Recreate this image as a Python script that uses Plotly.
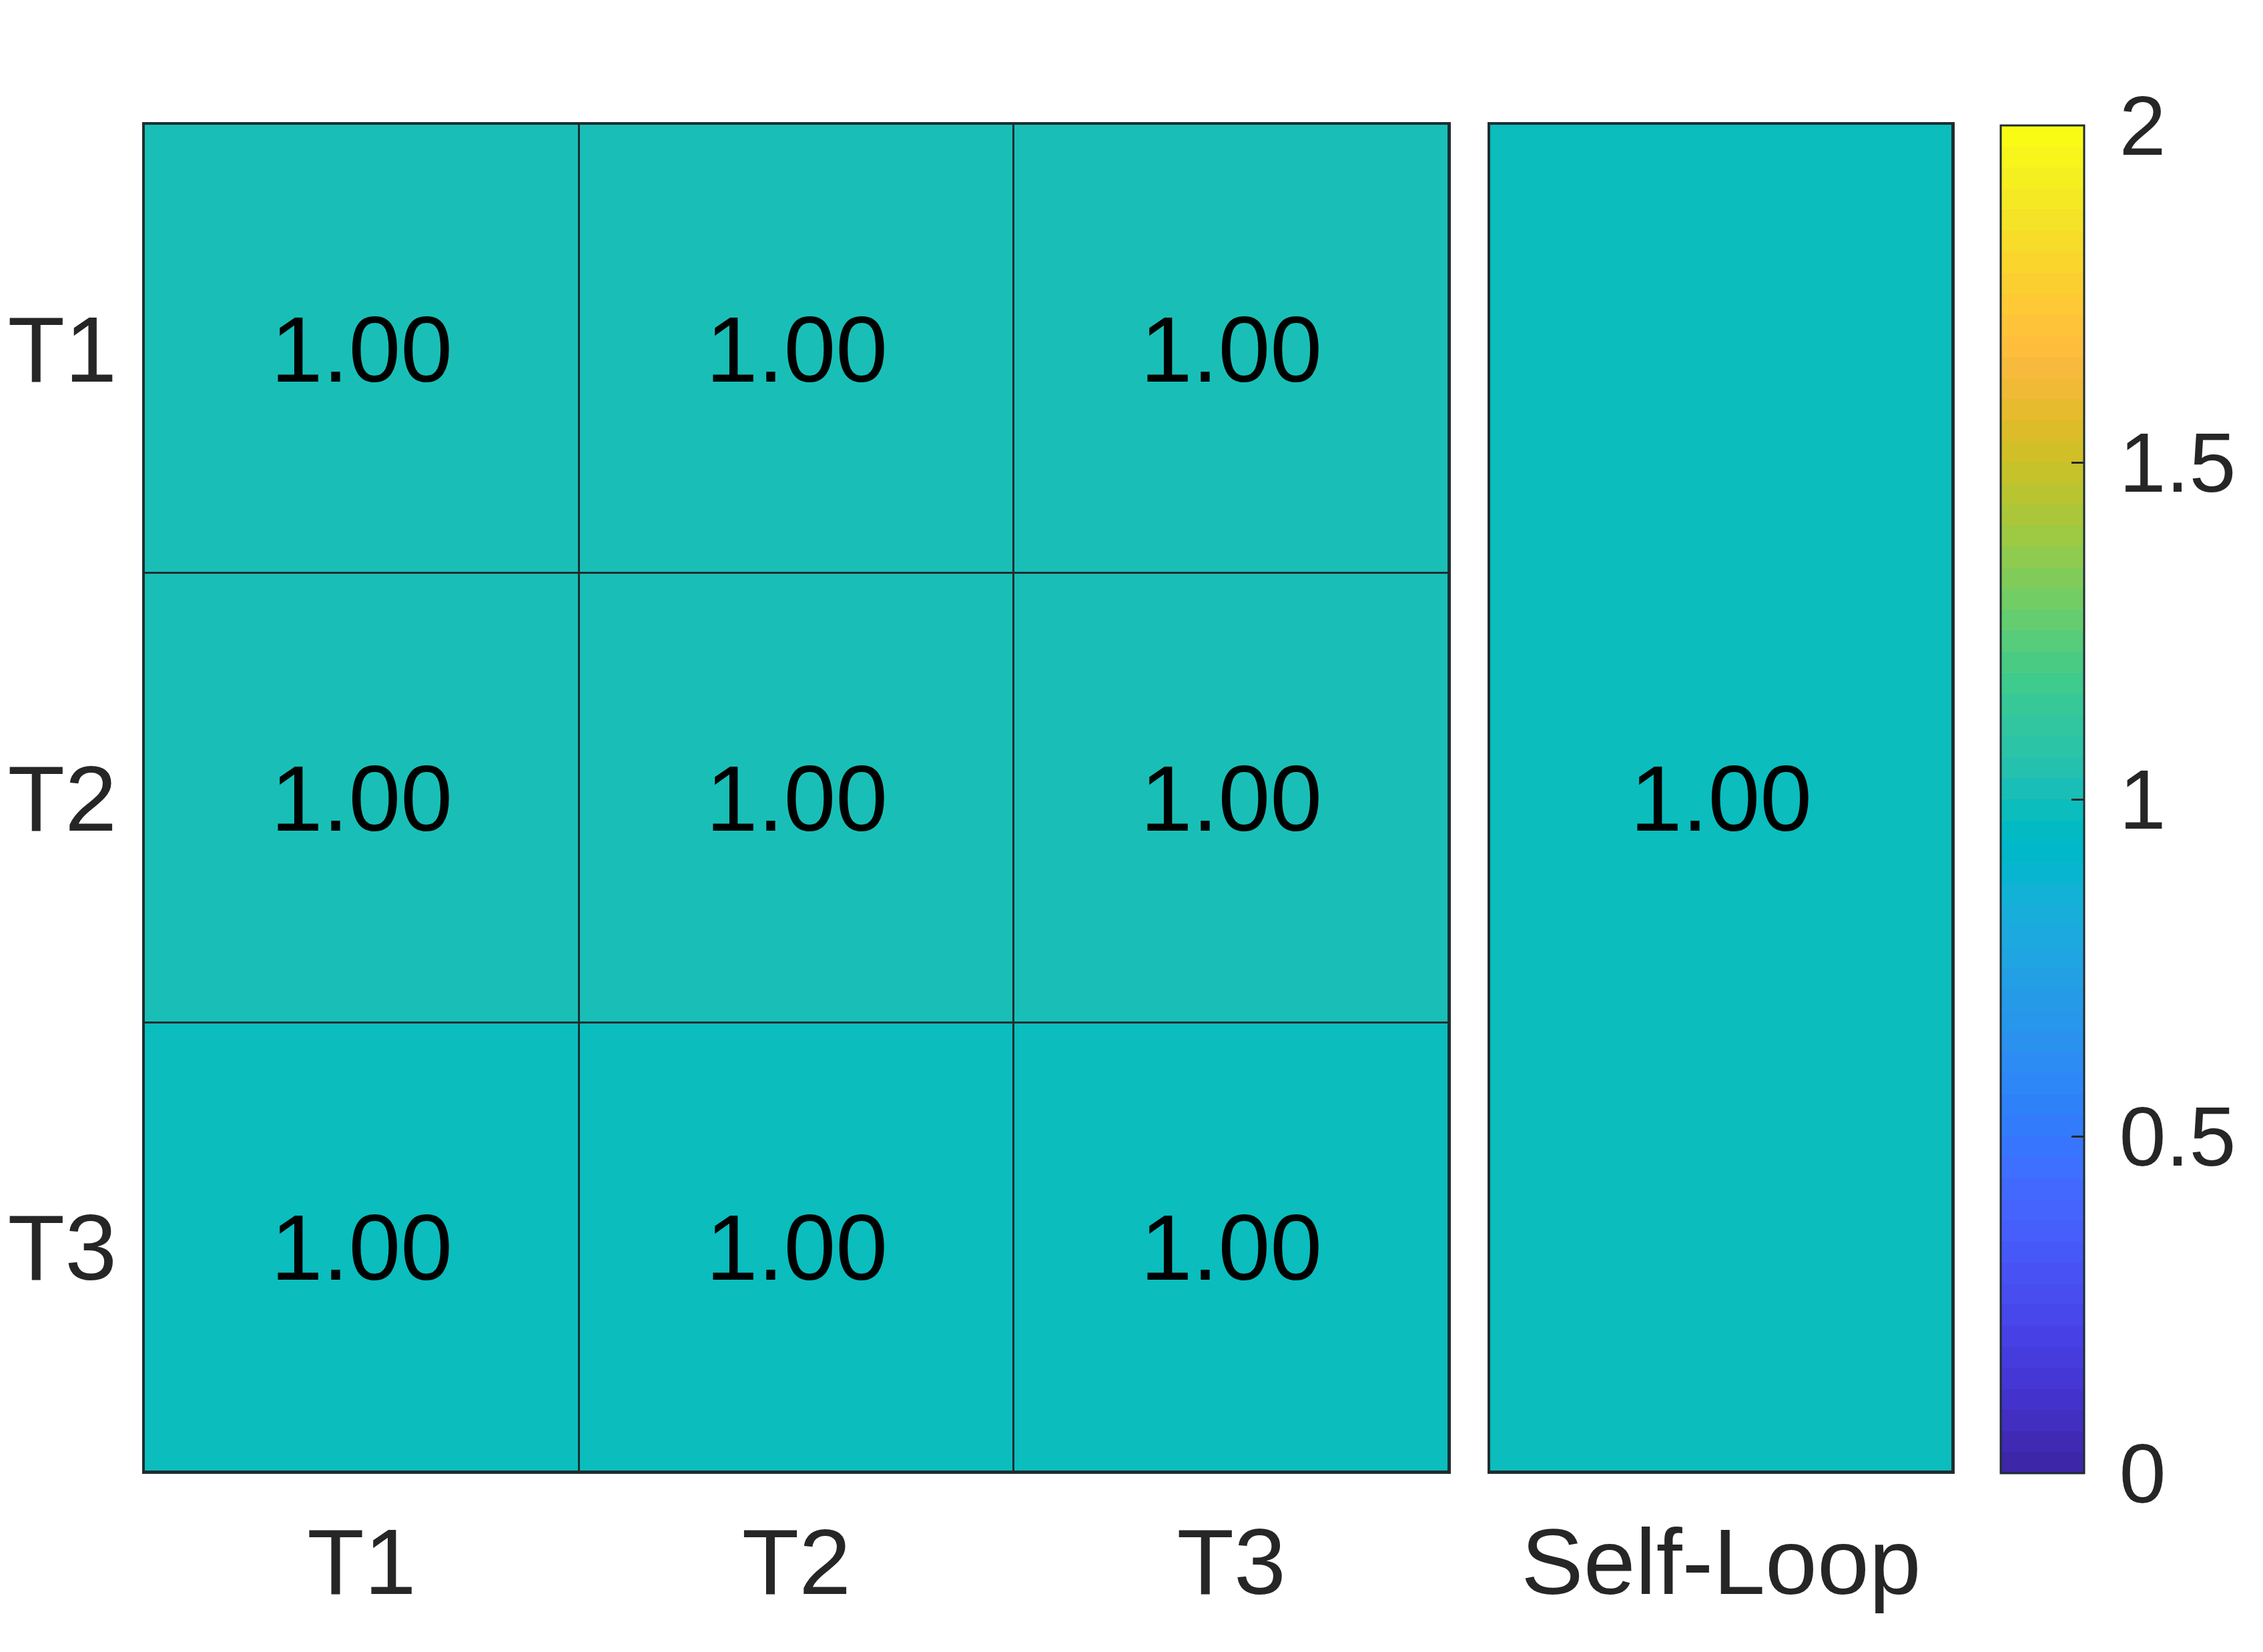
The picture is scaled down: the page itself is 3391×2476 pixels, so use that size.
import plotly.graph_objects as go

# data
row_labels = ['T1', 'T2', 'T3']
col_labels = ['T1', 'T2', 'T3']
loop_label = ['Self-Loop']

# every cell reads 1.00; rows T1/T2 sit a hair above 1, row T3 a hair below
transition = [
    [1.002, 1.002, 1.002],
    [1.002, 1.002, 1.002],
    [0.998, 0.998, 0.998],
]
self_loop = [[0.998]]

cbar_ticks = [0, 0.5, 1, 1.5, 2]
cbar_ticktext = ['0', '0.5', '1', '1.5', '2']

# MATLAB parula(64)
PARULA = [
    (0.2422, 0.1504, 0.6603), (0.2504, 0.1650, 0.7076), (0.2578, 0.1818, 0.7511),
    (0.2647, 0.1978, 0.7952), (0.2706, 0.2147, 0.8364), (0.2751, 0.2342, 0.8710),
    (0.2783, 0.2559, 0.8991), (0.2803, 0.2782, 0.9221), (0.2813, 0.3006, 0.9414),
    (0.2810, 0.3228, 0.9579), (0.2795, 0.3447, 0.9717), (0.2760, 0.3667, 0.9829),
    (0.2699, 0.3892, 0.9906), (0.2602, 0.4123, 0.9952), (0.2440, 0.4358, 0.9988),
    (0.2206, 0.4603, 0.9973), (0.1963, 0.4847, 0.9892), (0.1834, 0.5074, 0.9798),
    (0.1786, 0.5289, 0.9682), (0.1764, 0.5499, 0.9520), (0.1687, 0.5703, 0.9359),
    (0.1540, 0.5902, 0.9218), (0.1460, 0.6091, 0.9079), (0.1380, 0.6276, 0.8973),
    (0.1248, 0.6459, 0.8883), (0.1113, 0.6635, 0.8763), (0.0952, 0.6798, 0.8598),
    (0.0689, 0.6948, 0.8394), (0.0297, 0.7082, 0.8163), (0.0036, 0.7203, 0.7917),
    (0.0067, 0.7312, 0.7660), (0.0433, 0.7411, 0.7394), (0.0964, 0.7500, 0.7120),
    (0.1408, 0.7584, 0.6842), (0.1717, 0.7670, 0.6554), (0.1938, 0.7758, 0.6251),
    (0.2161, 0.7843, 0.5923), (0.2470, 0.7918, 0.5567), (0.2906, 0.7973, 0.5188),
    (0.3406, 0.8008, 0.4789), (0.3909, 0.8029, 0.4354), (0.4456, 0.8024, 0.3909),
    (0.5044, 0.7993, 0.3480), (0.5616, 0.7942, 0.3045), (0.6174, 0.7876, 0.2612),
    (0.6720, 0.7793, 0.2227), (0.7242, 0.7698, 0.1910), (0.7738, 0.7598, 0.1646),
    (0.8203, 0.7498, 0.1535), (0.8634, 0.7406, 0.1596), (0.9035, 0.7330, 0.1774),
    (0.9393, 0.7288, 0.2100), (0.9728, 0.7298, 0.2394), (0.9956, 0.7434, 0.2371),
    (0.9970, 0.7659, 0.2199), (0.9952, 0.7893, 0.2028), (0.9892, 0.8136, 0.1885),
    (0.9786, 0.8386, 0.1766), (0.9676, 0.8639, 0.1643), (0.9610, 0.8890, 0.1537),
    (0.9597, 0.9135, 0.1423), (0.9628, 0.9373, 0.1265), (0.9691, 0.9606, 0.1064),
    (0.9769, 0.9839, 0.0805),
]


def stepped_scale(cmap):
    n = len(cmap)
    scale = []
    for i, (r, g, b) in enumerate(cmap):
        c = 'rgb(%d,%d,%d)' % (round(r * 255), round(g * 255), round(b * 255))
        scale.append([i / n, c])
        scale.append([(i + 1) / n, c])
    return scale


colorscale = stepped_scale(PARULA)

W, H = 3391, 2476
OFF = 8  # page body margin
FONT = 'Liberation Sans, Arial, Helvetica, sans-serif'
EDGE = '#1f2d30'
TICK_COLOR = '#262626'


def px_x(p):
    return (p - OFF) / W


def px_y(p):
    return (H - (p - OFF)) / H


fig = go.Figure()

fig.add_trace(go.Heatmap(
    z=transition,
    x=col_labels,
    y=row_labels,
    zmin=0, zmax=2,
    colorscale=colorscale,
    xgap=3, ygap=3,
    texttemplate='%{z:.2f}',
    textfont=dict(size=140, color='black', family=FONT),
    colorbar=dict(
        x=px_x(2998), xanchor='left', xpad=0,
        y=px_y(2208), yanchor='bottom', ypad=0,
        thicknessmode='pixels', thickness=125,
        lenmode='pixels', len=2020,
        outlinecolor=EDGE, outlinewidth=3,
        ticks='inside', ticklen=20, tickwidth=3, tickcolor=TICK_COLOR,
        tickvals=cbar_ticks,
        # thin space pushes the labels a little further from the bar
        ticktext=['\u2009' + t for t in cbar_ticktext],
        tickfont=dict(size=126, color=TICK_COLOR, family=FONT),
    ),
    xaxis='x', yaxis='y',
))

fig.add_trace(go.Heatmap(
    z=self_loop,
    x=loop_label,
    y=['all'],
    zmin=0, zmax=2,
    colorscale=colorscale,
    showscale=False,
    xgap=3, ygap=3,
    texttemplate='%{z:.2f}',
    textfont=dict(size=140, color='black', family=FONT),
    xaxis='x2', yaxis='y2',
))

y_dom = [px_y(2206), px_y(186)]
axis_common = dict(
    showline=True, mirror=True, linecolor=EDGE, linewidth=3,
    showgrid=False, zeroline=False, ticks='', automargin=False,
    tickfont=dict(size=140, color=TICK_COLOR, family=FONT),
)

fig.update_layout(
    width=W, height=H,
    margin=dict(l=0, r=0, t=0, b=0),
    paper_bgcolor='white',
    plot_bgcolor=EDGE,
    font=dict(family=FONT, color=TICK_COLOR),
    xaxis=dict(domain=[px_x(216), px_x(2171)], anchor='y', ticklabelstandoff=12, **axis_common),
    yaxis=dict(domain=y_dom, anchor='x', autorange='reversed', ticklabelstandoff=10, **axis_common),
    xaxis2=dict(domain=[px_x(2232), px_x(2926)], anchor='y2', ticklabelstandoff=12, **axis_common),
    yaxis2=dict(domain=y_dom, anchor='x2', showticklabels=False, **axis_common),
)

fig.write_html('out.html')
